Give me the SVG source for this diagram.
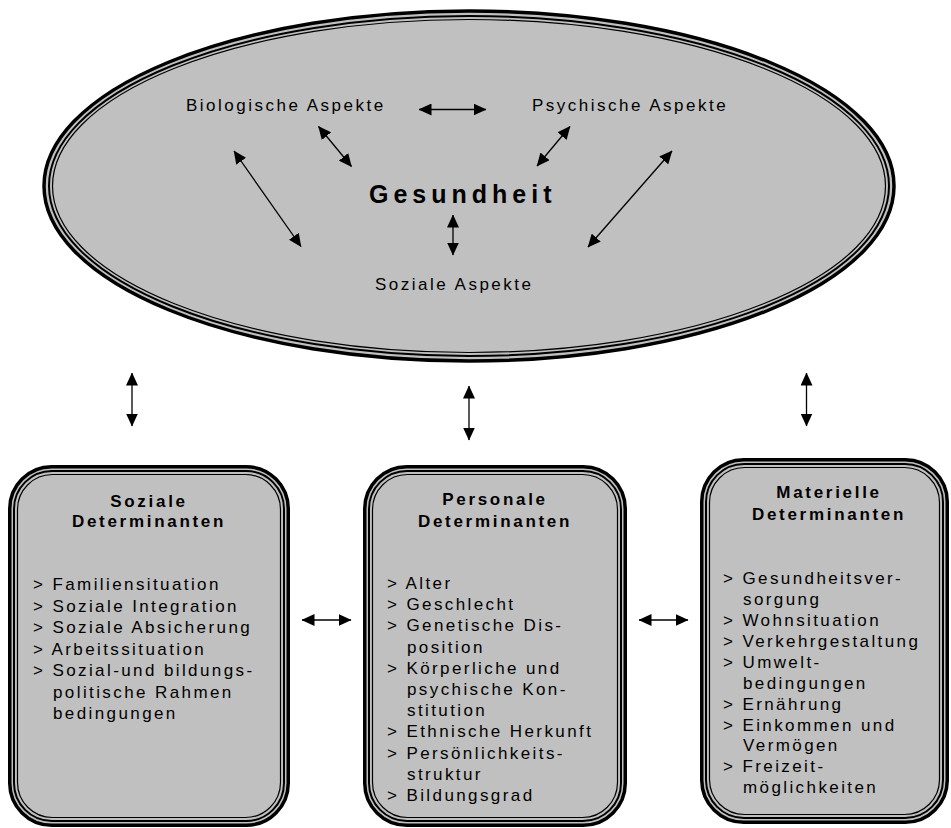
<svg xmlns="http://www.w3.org/2000/svg" width="951" height="828" viewBox="0 0 951 828">
<style>
.bg{fill:#ffffff}
.o{fill:#c0c0c0;stroke:#000;stroke-width:3.5}
.m{fill:none;stroke:#000;stroke-width:2}
.i{fill:none;stroke:#000;stroke-width:1.2}
text{font-family:"Liberation Sans",Arial,sans-serif;fill:#000}
.asp{font-size:17px;letter-spacing:2.5px}
.gs{font-size:25px;font-weight:bold;letter-spacing:5px}
.tt{font-size:17px;font-weight:bold;letter-spacing:2.7px;text-anchor:middle}
.it{font-size:17px;letter-spacing:2.4px}
.c{fill:none;stroke:#000;stroke-width:1.3;marker-start:url(#ah);marker-end:url(#ah)}
</style>
<defs>
<marker id="ah" markerUnits="userSpaceOnUse" viewBox="0 0 13 12" markerWidth="13" markerHeight="12" refX="12.5" refY="6" orient="auto-start-reverse">
<path d="M0,0 L13,6 L0,12 z" fill="#000"/>
</marker>
</defs>
<rect class="bg" x="0" y="0" width="951" height="828"/>
<g id="gesundheit">
<ellipse class="o" cx="469" cy="186" rx="425" ry="175"/>
<ellipse class="m" cx="469" cy="186" rx="420" ry="170"/>
<ellipse class="i" cx="469" cy="186" rx="416.5" ry="166.5"/>
<text class="gs" x="369" y="203">Gesundheit</text>
</g>
<g id="bio"><text class="asp" x="186" y="111">Biologische Aspekte</text></g>
<g id="psy"><text class="asp" x="532" y="111">Psychische Aspekte</text></g>
<g id="soz"><text class="asp" x="375" y="290">Soziale Aspekte</text></g>
<g id="soziale-det">
<rect class="o" x="9.75" y="466.75" width="278.5" height="358.5" rx="42"/>
<rect class="m" x="14" y="471" width="270" height="350" rx="38"/>
<rect class="i" x="17.5" y="474.5" width="263" height="343" rx="35"/>
<text class="tt" x="149" y="506.5">Soziale</text>
<text class="tt" x="149" y="526.5">Determinanten</text>
<text class="it" x="33" y="590">&gt; Familiensituation</text>
<text class="it" x="33" y="611.5">&gt; Soziale Integration</text>
<text class="it" x="33" y="633">&gt; Soziale Absicherung</text>
<text class="it" x="33" y="654.5">&gt; Arbeitssituation</text>
<text class="it" x="33" y="676">&gt; Sozial-und bildungs-</text>
<text class="it" x="53" y="697.5">politische Rahmen</text>
<text class="it" x="53" y="719">bedingungen</text>
</g>
<g id="personale-det">
<rect class="o" x="364.75" y="466.75" width="260.5" height="358.5" rx="42"/>
<rect class="m" x="369" y="471" width="252" height="350" rx="38"/>
<rect class="i" x="372.5" y="474.5" width="245" height="343" rx="35"/>
<text class="tt" x="495" y="505">Personale</text>
<text class="tt" x="495" y="526.5">Determinanten</text>
<text class="it" x="387" y="589">&gt; Alter</text>
<text class="it" x="387" y="610.2">&gt; Geschlecht</text>
<text class="it" x="387" y="631.4">&gt; Genetische Dis-</text>
<text class="it" x="407" y="652.6">position</text>
<text class="it" x="387" y="673.8">&gt; Körperliche und</text>
<text class="it" x="407" y="695">psychische Kon-</text>
<text class="it" x="407" y="716.2">stitution</text>
<text class="it" x="387" y="737.4">&gt; Ethnische Herkunft</text>
<text class="it" x="387" y="758.6">&gt; Persönlichkeits-</text>
<text class="it" x="407" y="779.8">struktur</text>
<text class="it" x="387" y="801">&gt; Bildungsgrad</text>
</g>
<g id="materielle-det">
<rect class="o" x="701.75" y="459.75" width="245.5" height="362.5" rx="42"/>
<rect class="m" x="706" y="464" width="237" height="354" rx="38"/>
<rect class="i" x="709.5" y="467.5" width="230" height="347" rx="35"/>
<text class="tt" x="829" y="498.3">Materielle</text>
<text class="tt" x="829" y="520">Determinanten</text>
<text class="it" x="723" y="584">&gt; Gesundheitsver-</text>
<text class="it" x="743" y="605">sorgung</text>
<text class="it" x="723" y="625.9">&gt; Wohnsituation</text>
<text class="it" x="723" y="646.8">&gt; Verkehrgestaltung</text>
<text class="it" x="723" y="667.7">&gt; Umwelt-</text>
<text class="it" x="743" y="688.6">bedingungen</text>
<text class="it" x="723" y="709.6">&gt; Ernährung</text>
<text class="it" x="723" y="730.5">&gt; Einkommen und</text>
<text class="it" x="743" y="751.4">Vermögen</text>
<text class="it" x="723" y="772.3">&gt; Freizeit-</text>
<text class="it" x="743" y="793.2">möglichkeiten</text>
</g>
<g id="connectors">
<line class="c" x1="419" y1="109.5" x2="486" y2="109.5"/>
<line class="c" x1="318.5" y1="126.5" x2="351.5" y2="166.5"/>
<line class="c" x1="570" y1="126.5" x2="537" y2="166"/>
<line class="c" x1="234" y1="151" x2="301" y2="246.5"/>
<line class="c" x1="672" y1="151" x2="588" y2="247"/>
<line class="c" x1="453" y1="215" x2="453" y2="255"/>
<line class="c" x1="132" y1="373" x2="132" y2="426"/>
<line class="c" x1="469" y1="386" x2="469" y2="440"/>
<line class="c" x1="806.5" y1="373" x2="806.5" y2="426"/>
<line class="c" x1="302" y1="620" x2="351" y2="620"/>
<line class="c" x1="639" y1="620" x2="688" y2="620"/>
</g>
</svg>
